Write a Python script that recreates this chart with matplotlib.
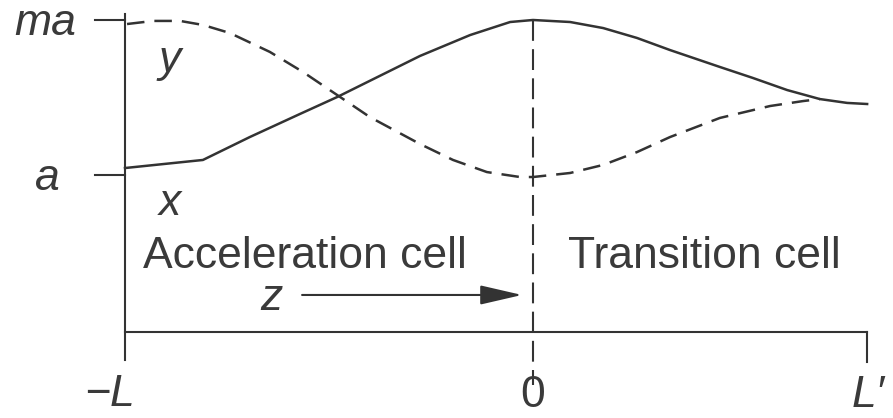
import matplotlib
matplotlib.use("Agg")
import matplotlib.pyplot as plt

# position along the cells, in units of L (-L ... 0 ... L')
z_x = [-1.000, -0.809, -0.694, -0.571, -0.480, -0.277, -0.154, -0.056, 0.000,
       0.091, 0.172, 0.255, 0.336, 0.458, 0.539, 0.623, 0.703, 0.770, 0.819]
# solid curve x, in units of a (a = 1, ma = 2)
x_vals = [1.045, 1.097, 1.245, 1.394, 1.503, 1.768, 1.903, 1.987, 2.000,
          1.987, 1.948, 1.884, 1.806, 1.697, 1.626, 1.548, 1.490, 1.465, 1.458]

z_y = [-0.995, -0.931, -0.865, -0.809, -0.743, -0.645, -0.564, -0.480, -0.400,
       -0.277, -0.196, -0.113, -0.032, 0.000, 0.091, 0.172, 0.255, 0.336,
       0.458, 0.581, 0.662, 0.703]
# dashed curve y
y_vals = [1.974, 1.994, 1.994, 1.968, 1.916, 1.794, 1.665, 1.516, 1.374,
          1.200, 1.097, 1.019, 0.987, 0.987, 1.013, 1.065, 1.148, 1.245,
          1.368, 1.445, 1.477, 1.490]

z_ticks = [-1.0, 0.0, 0.819]
z_labels = ["\u2212L", "0", "L\u2032"]
a_ticks = [1.0, 2.0]
a_labels = ["a", "ma"]

ink = "#333333"
txt = "#3a3a3a"
fs = 32

plt.rcParams["font.family"] = ["Liberation Sans", "DejaVu Sans"]

fig = plt.figure(figsize=(8.93, 4.18), dpi=100)
ax = fig.add_axes([0, 0, 1, 1])
ax.set_xlim(-1.3064, 0.8824)
ax.set_ylim(-0.5677, 2.129)
ax.axis("off")

base = -0.013  # level of the z axis line

# frame: left upright, bottom z axis and the end tick at L'
ax.plot([-1, -1], [2.039, -0.194], color=ink, lw=1.5)
ax.plot([-1, z_ticks[2]], [base, base], color=ink, lw=1.5)
ax.plot([z_ticks[2], z_ticks[2]], [base, -0.206], color=ink, lw=1.5)
for v in a_ticks:
    ax.plot([-1.074, -1], [v, v], color=ink, lw=1.5)

# cell boundary at z = 0
ax.plot([0, 0], [2.0, -0.355], color=ink, lw=1.5, linestyle=(0, (10, 4)))

ax.plot(z_x, x_vals, color=ink, lw=1.8, solid_joinstyle="round")
ax.plot(z_y, y_vals, color=ink, lw=1.8, linestyle=(0, (7, 4)))

# tick labels
ax.text(-1.196, 1.903, a_labels[1], fontsize=fs, style="italic", color=txt,
        ha="center", va="baseline")
ax.text(-1.191, 0.903, a_labels[0], fontsize=fs, style="italic", color=txt,
        ha="center", va="baseline")
ax.text(-1.037, -0.490, z_labels[0], fontsize=fs, style="italic", color=txt,
        ha="center", va="baseline")
ax.text(z_ticks[1], -0.497, z_labels[1], fontsize=fs, color=txt, ha="center", va="baseline")
ax.text(0.821, -0.497, z_labels[2], fontsize=fs, style="italic", color=txt,
        ha="center", va="baseline")

# curve names
ax.text(-0.890, 1.665, "y", fontsize=fs, style="italic", color=txt, ha="center", va="baseline")
ax.text(-0.890, 0.742, "x", fontsize=fs, style="italic", color=txt, ha="center", va="baseline")

ax.text(-0.956, 0.40, "Acceleration cell", fontsize=fs, color=txt, ha="left", va="baseline")
ax.text(0.0858, 0.40, "Transition cell", fontsize=fs, color=txt, ha="left", va="baseline")

# direction of z
ax.text(-0.640, 0.129, "z", fontsize=fs, style="italic", color=txt, ha="center", va="baseline")
ax.annotate("", xy=(-0.027, 0.226), xytext=(-0.566, 0.226),
            arrowprops=dict(arrowstyle="-|>,head_length=1.3,head_width=0.3",
                            color=ink, lw=1.5, mutation_scale=20,
                            shrinkA=0, shrinkB=0))

fig.savefig("out.png", dpi=100)
